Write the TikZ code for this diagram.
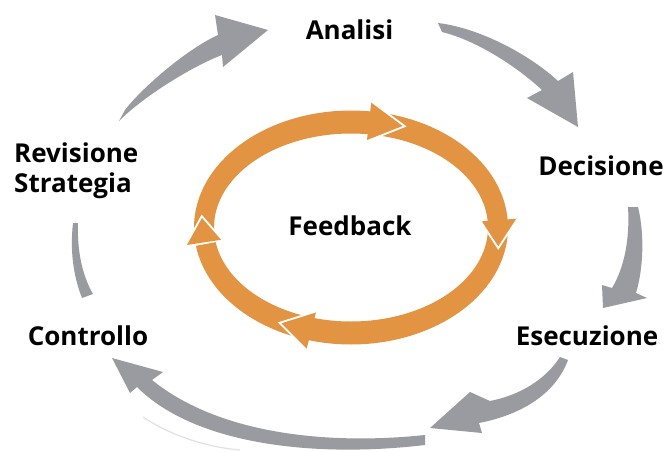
\documentclass[tikz,border=0pt]{standalone}
\usepackage{fontspec}
\setmainfont{Open Sans}
\definecolor{arrgray}{RGB}{154,155,160}
\definecolor{ringor}{RGB}{226,148,66}
\newcommand\ringbody[2]{\fill[ringarrow] plot[domain=#1:#2,samples=60] ({351+157*cos(\x)},{227.5-117*sin(\x)}) -- plot[domain=#2:#1,samples=60] ({351+137*cos(\x)},{227.5-94*sin(\x)}) -- cycle;}
\newcommand\ringhead[2]{\fill[ringarrow] ({351+167*cos(#1)},{227.5-127*sin(#1)}) -- ({351+150*cos(#2)},{227.5-108.5*sin(#2)}) -- ({351+130*cos(#1)},{227.5-87*sin(#1)}) -- cycle;}
\newcommand\ringgap[2]{\draw[gapline] ({351+167*cos(#1)},{227.5-127*sin(#1)}) -- ({351+150*cos(#2)},{227.5-108.5*sin(#2)}) -- ({351+130*cos(#1)},{227.5-87*sin(#1)});}
\begin{document}
\begin{tikzpicture}[x=1pt,y=-1pt,
  grayarrow/.style={fill=arrgray},
  ringarrow/.style={fill=ringor},
  gapline/.style={draw=white,line width=1.8pt,line join=miter},
  txt/.style={font=\fontsize{26}{30}\selectfont\bfseries,inner sep=0pt,anchor=base}]
\useasboundingbox[fill=white] (0,0) rectangle (665,451);

% outer grey cycle
\fill[grayarrow] (119,121) .. controls (145,95) and (195,65) .. (222,55) -- (223,67) -- (268,30) -- (215,15) -- (218,35) .. controls (185,50) and (140,90) .. (125,110) -- cycle;
\fill[grayarrow] (438,23) .. controls (480,28) and (530,55) .. (558,81) -- (573,72) -- (578,127) -- (527,98) -- (542,90) .. controls (515,65) and (475,40) .. (442,32) -- cycle;
\fill[grayarrow] (628,207) -- (638,207) .. controls (645,235) and (643,270) .. (636,293) -- (647,298) -- (603,308) -- (602,285) -- (612,288) .. controls (624,268) and (630,240) .. (628,207) -- cycle;
\fill[grayarrow] (560,357) -- (568,360) .. controls (555,395) and (520,415) .. (479,423) -- (482,433) -- (430,428) -- (470,392) -- (490,401) .. controls (520,395) and (545,380) .. (560,357) -- cycle;
\fill[grayarrow] (425,435) .. controls (330,445) and (220,435) .. (152,380) -- (163,372) -- (112,358) -- (130,393) -- (137,387) .. controls (195,445) and (315,458) .. (425,445) -- cycle;
\fill[grayarrow] (73,223) -- (78,223) .. controls (77,250) and (82,275) .. (93,294) -- (82,298) .. controls (73,275) and (70,250) .. (73,223) -- cycle;
\draw[arrgray!30,line width=1.2pt] (143,417) .. controls (170,435) and (205,447) .. (240,450);

% inner orange feedback ring
\ringbody{187}{80}
\ringbody{82}{1}
\ringbody{2}{-108.5}
\ringbody{-105.5}{-171}
\ringhead{83}{69}
\ringhead{4}{-11}
\ringhead{-105.5}{-118.5}
\ringhead{-172}{-186}
\ringgap{83}{69}
\ringgap{4}{-11}
\ringgap{-105.5}{-118.5}
\ringgap{-172}{-186}

% labels
\node[txt] (analisi) at (349.5,39) {Analisi};
\node[txt] (decisione) at (601,175) {Decisione};
\node[txt] (esecuzione) at (587,345) {Esecuzione};
\node[txt] (controllo) at (88,345) {Controllo};
\node[txt,align=left,anchor=west] (revisione) at (14,170.5) {Revisione\\Strategia};
\node[txt] (feedback) at (350,235) {Feedback};
\end{tikzpicture}
\end{document}
